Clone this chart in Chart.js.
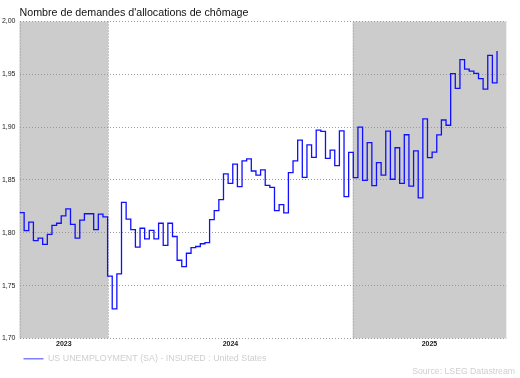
<!DOCTYPE html>
<html>
<head>
<meta charset="utf-8">
<script src="https://cdn.jsdelivr.net/npm/chart.js@4.4.1/dist/chart.umd.min.js"></script>
<style>
  html, body { margin: 0; padding: 0; background: #fff; }
</style>
</head>
<body>
<canvas id="claims" width="520" height="378"></canvas>
<script>
const chartTitle = "Nombre de demandes d'allocations de chômage";
const seriesName = 'US UNEMPLOYMENT (SA) - INSURED : United States';
const sourceNote = 'Source: LSEG Datastream';

// weekly insured unemployment, millions
const insuredClaims = [
  1.819, 1.802, 1.810, 1.7925, 1.795, 1.789, 1.7985, 1.807, 1.809, 1.816,
  1.8227, 1.808, 1.795, 1.812, 1.818, 1.818, 1.803, 1.8177, 1.815, 1.759,
  1.728, 1.761, 1.8287, 1.813, 1.803, 1.7865, 1.8043, 1.7943, 1.8022, 1.7943,
  1.809, 1.788, 1.809, 1.7965, 1.774, 1.768, 1.7806, 1.786, 1.787, 1.7896,
  1.7906, 1.8125, 1.821, 1.8314, 1.8557, 1.8468, 1.865, 1.8437, 1.868, 1.870,
  1.8585, 1.8545, 1.8596, 1.8448, 1.843, 1.821, 1.8267, 1.8189, 1.857, 1.868,
  1.8877, 1.8525, 1.8833, 1.8713, 1.8972, 1.896, 1.8704, 1.8783, 1.8635, 1.8965,
  1.8342, 1.8762, 1.8523, 1.900, 1.8497, 1.8853, 1.8447, 1.8664, 1.8545, 1.8963,
  1.8507, 1.8805, 1.8467, 1.8928, 1.8441, 1.8776, 1.833, 1.9078, 1.8712, 1.8764,
  1.8927, 1.9068, 1.9018, 1.9506, 1.9368, 1.9639, 1.955, 1.953, 1.951, 1.946,
  1.936, 1.968, 1.942, 1.972
];

const yearLabels = ['2023', '2024', '2025'];
// year boundaries on the week axis (week index)
const yearEdges = [0, 19.13, 71.86, 105];

const yMin = 1.70;
const yMax = 2.00;
const yStep = 0.05;

const font = "'Liberation Sans', Arial, sans-serif";

// grey bands for alternate years + dotted verticals, source line at the end
const yearBands = {
  id: 'yearBands',
  beforeDraw(chart) {
    const { ctx, chartArea: a, scales: { x } } = chart;
    ctx.save();
    ctx.fillStyle = '#cccccc';
    for (let i = 0; i < yearLabels.length; i += 2) {
      const x0 = x.getPixelForValue(yearEdges[i]);
      const x1 = x.getPixelForValue(yearEdges[i + 1]);
      ctx.fillRect(x0, a.top, x1 - x0, a.bottom - a.top);
    }
    ctx.strokeStyle = '#9a9a9a';
    ctx.lineWidth = 1;
    ctx.setLineDash([1, 2]);
    yearEdges.slice(0, -1).forEach(v => {
      const px = Math.round(x.getPixelForValue(v)) + 0.5;
      ctx.beginPath();
      ctx.moveTo(px, a.top);
      ctx.lineTo(px, a.bottom);
      ctx.stroke();
    });
    ctx.restore();
  },
  afterDraw(chart) {
    const { ctx } = chart;
    ctx.save();
    ctx.font = '8.7px ' + font;
    ctx.fillStyle = '#cfcfcf';
    ctx.textAlign = 'right';
    ctx.textBaseline = 'middle';
    ctx.fillText(sourceNote, 515, 372);
    ctx.restore();
  }
};

new Chart(document.getElementById('claims'), {
  type: 'line',
  data: {
    datasets: [{
      label: seriesName,
      data: insuredClaims.map((v, i) => ({ x: i, y: v })),
      borderColor: '#1010ff',
      borderWidth: 1.3,
      stepped: true,
      pointRadius: 0,
      fill: false
    }]
  },
  options: {
    responsive: false,
    animation: false,
    layout: { padding: { top: 0, right: 13.7, bottom: 4.7, left: 0 } },
    scales: {
      x: {
        type: 'linear',
        min: yearEdges[0],
        max: yearEdges[yearEdges.length - 1],
        grid: { display: false, drawTicks: false },
        border: { display: false },
        afterBuildTicks(scale) {
          scale.ticks = yearLabels.map((_, i) => ({ value: (yearEdges[i] + yearEdges[i + 1]) / 2 }));
        },
        afterFit(scale) { scale.height = 12; },
        ticks: {
          autoSkip: false,
          maxRotation: 0,
          padding: 1,
          color: '#222',
          font: { family: font, size: 7, weight: 'bold' },
          callback: (v, i) => yearLabels[i]
        }
      },
      y: {
        min: yMin,
        max: yMax,
        grid: { color: '#9a9a9a', drawTicks: false },
        border: { display: false, dash: [1, 2] },
        afterFit(scale) { scale.width = 19.5; },
        ticks: {
          stepSize: yStep,
          padding: 4,
          color: '#222',
          font: { family: font, size: 7 },
          callback: v => v.toFixed(2).replace('.', ',')
        }
      }
    },
    plugins: {
      title: {
        display: true,
        text: chartTitle,
        align: 'start',
        fullSize: false,
        color: '#111',
        font: { family: font, size: 10.7, weight: 'normal' },
        padding: { top: 6.2, bottom: 2.5 }
      },
      legend: {
        position: 'bottom',
        align: 'start',
        fullSize: false,
        labels: {
          boxWidth: 20,
          boxHeight: 1.5,
          padding: 4,
          color: '#cfcfcf',
          font: { family: font, size: 8.9 },
          generateLabels(chart) {
            return Chart.defaults.plugins.legend.labels.generateLabels(chart).map(item => ({
              ...item,
              fillStyle: '#8080ff',
              strokeStyle: '#8080ff',
              lineWidth: 0
            }));
          }
        }
      },
      tooltip: { enabled: false }
    }
  },
  plugins: [yearBands]
});
</script>
</body>
</html>
